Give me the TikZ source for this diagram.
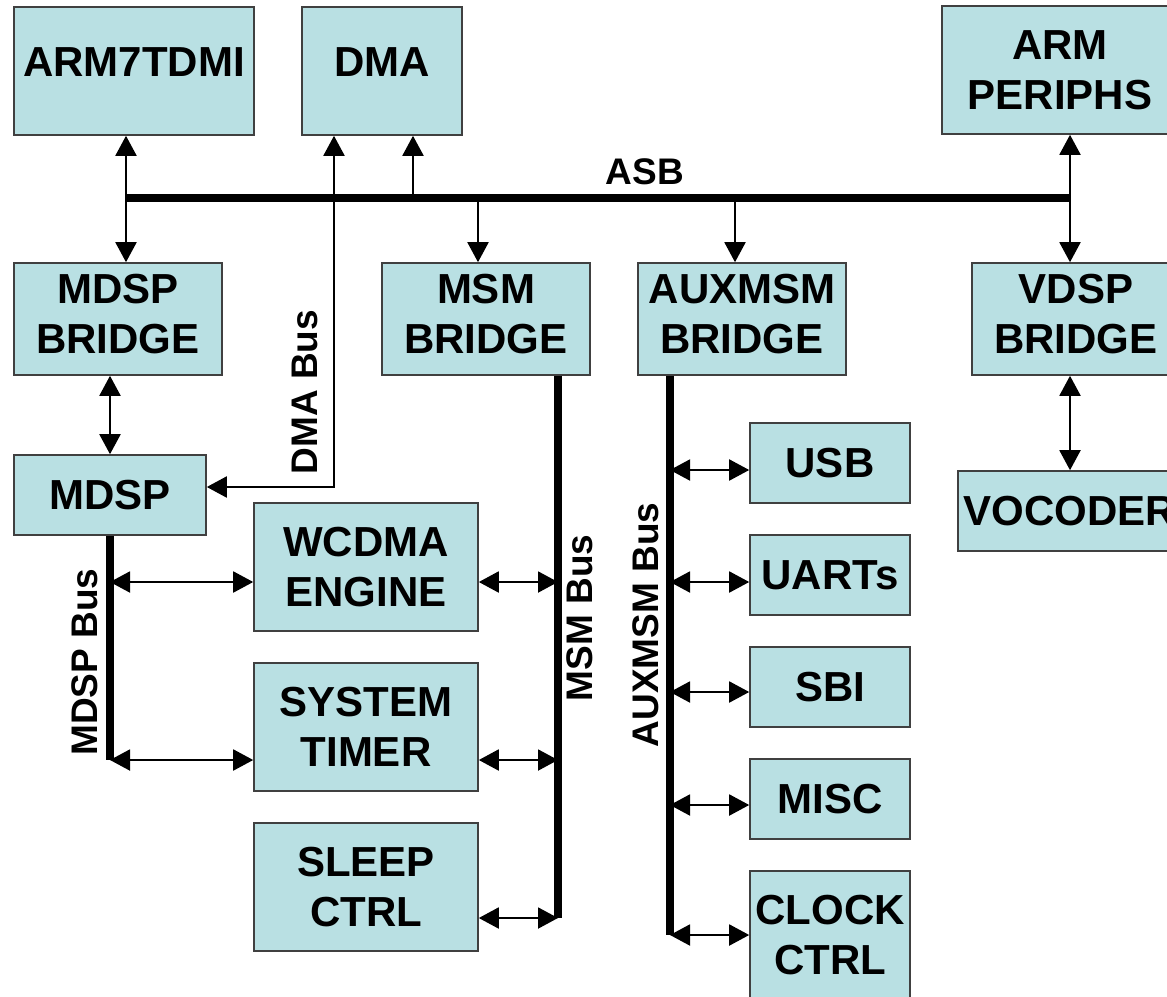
\documentclass[tikz,border=0pt]{standalone}
\usepackage{fontspec}
\setmainfont{Liberation Sans}
\usetikzlibrary{arrows.meta,positioning}
\definecolor{blockfill}{RGB}{185,224,227}
\newcommand{\padbelow}[1]{\rule[-#1]{0pt}{#1}}
\tikzset{
    blk/.style={draw=black!75, fill=blockfill, line width=0.8pt, inner sep=0pt, align=center,
                font=\fontsize{21}{25}\selectfont\bfseries},
    link/.style={line width=1pt, -{Triangle[length=10pt,width=10.5pt]}},
    dlink/.style={line width=1pt, {Triangle[length=10pt,width=10.5pt]}-{Triangle[length=10pt,width=10.5pt]}},
    bus/.style={line width=4pt},
    buslabel/.style={font=\fontsize{18.5}{22}\selectfont\bfseries, inner sep=0pt},
}
\begin{document}
\begin{tikzpicture}[x=0.5pt,y=-0.5pt]
                \useasboundingbox (0,0) rectangle (1167,996);
                \clip (0,0) rectangle (1167,996);
                %%%  Blocks on top row
                \node[blk, minimum width=120pt, minimum height=64pt] (arm) at (134,71) {ARM7TDMI\padbelow{9pt}};
                \node[blk, minimum width=80pt, minimum height=64pt] (dma) at (382,71) {DMA\padbelow{9pt}};
                \node[blk, minimum width=118pt, minimum height=64pt] (periph) at (1060,70) {ARM\\PERIPHS};
                %%%  Bridges
                \node[blk, minimum width=104pt, minimum height=56pt] (mdspbr) at (118,319) {MDSP\\BRIDGE\padbelow{5pt}};
                \node[blk, minimum width=104pt, minimum height=56pt] (msmbr) at (486,319) {MSM\\BRIDGE\padbelow{5pt}};
                \node[blk, minimum width=104pt, minimum height=56pt] (auxbr) at (742,319) {AUXMSM\\BRIDGE\padbelow{5pt}};
                \node[blk, minimum width=104pt, minimum height=56pt] (vdspbr) at (1076,319) {VDSP\\BRIDGE\padbelow{5pt}};
                %%%  Lower blocks
                \node[blk, minimum width=96pt, minimum height=40pt] (mdsp) at (110,495) {MDSP};
                \node[blk, minimum width=112pt, minimum height=64pt] (wcdma) at (366,567) {WCDMA\\ENGINE};
                \node[blk, minimum width=112pt, minimum height=64pt] (timer) at (366,727) {SYSTEM\\TIMER};
                \node[blk, minimum width=112pt, minimum height=64pt] (sleep) at (366,887) {SLEEP\\CTRL};
                \node[blk, minimum width=80pt, minimum height=40pt] (usb) at (830,463) {USB};
                \node[blk, minimum width=80pt, minimum height=40pt] (uarts) at (830,575) {UARTs};
                \node[blk, minimum width=80pt, minimum height=40pt] (sbi) at (830,687) {SBI};
                \node[blk, minimum width=80pt, minimum height=40pt] (misc) at (830,799) {MISC};
                \node[blk, minimum width=80pt, minimum height=64pt] (clock) at (830,935) {CLOCK\\CTRL};
                \node[blk, minimum width=112pt, minimum height=40pt] (vocoder) at (1070,511) {VOCODER};
                %%%  Bus end points and taps
                \coordinate (asbA) at (126,198);
                \coordinate (asbD) at (413,198);
                \coordinate (asbM) at (478,198);
                \coordinate (asbX) at (735,198);
                \coordinate (asbV) at (1070,198);
                \coordinate (dmabus) at (334,487);
                \coordinate (mdspA) at (110,582);
                \coordinate (mdspB) at (110,760);
                \coordinate (msmA) at (558,582);
                \coordinate (msmB) at (558,760);
                \coordinate (msmC) at (558,918);
                \coordinate (auxA) at (670,470);
                \coordinate (auxB) at (670,582);
                \coordinate (auxC) at (670,692);
                \coordinate (auxD) at (670,805);
                \coordinate (auxE) at (670,935);
                %%%  ASB and its arrows
                \draw[dlink] (asbA |- arm.south) -- (asbA |- mdspbr.north);
                \draw[dlink] (dmabus |- dma.south) -- (dmabus) -- (dmabus -| mdsp.east);
                \draw[link] (asbD) -- (asbD |- dma.south);
                \draw[link] (asbM) -- (asbM |- msmbr.north);
                \draw[link] (asbX) -- (asbX |- auxbr.north);
                \draw[link] (asbV) -- (asbV |- periph.south);
                \draw[link] (asbV) -- (asbV |- vdspbr.north);
                \draw[bus] (asbA) -- (asbV);
                \node[buslabel] (asb) at (645,172) {ASB};
                %%%  Bridge to block arrows
                \draw[dlink] (mdspbr.south -| mdsp) -- (mdsp.north);
                \draw[dlink] (vdspbr.south -| asbV) -- (vocoder.north -| asbV);
                %%%  MDSP Bus
                \draw[bus] (mdsp.south) -- (mdspB);
                \draw[dlink] (mdspA) -- (mdspA -| wcdma.west);
                \draw[dlink] (mdspB) -- (mdspB -| timer.west);
                %%%  MSM Bus
                \draw[bus] (msmbr.south -| msmA) -- (msmC);
                \draw[dlink] (msmA -| wcdma.east) -- (msmA);
                \draw[dlink] (msmB -| timer.east) -- (msmB);
                \draw[dlink] (msmC -| sleep.east) -- (msmC);
                %%%  AUXMSM Bus
                \draw[bus] (auxbr.south -| auxA) -- (auxE);
                \draw[dlink] (auxA) -- (auxA -| usb.west);
                \draw[dlink] (auxB) -- (auxB -| uarts.west);
                \draw[dlink] (auxC) -- (auxC -| sbi.west);
                \draw[dlink] (auxD) -- (auxD -| misc.west);
                \draw[dlink] (auxE) -- (auxE -| clock.west);
                %%%  Bus labels
                \node[buslabel, rotate=90] (dmalbl) at (305,392) {DMA Bus};
                \node[buslabel, rotate=90] (mdsplbl) at (85,662) {MDSP Bus};
                \node[buslabel, rotate=90] (msmlbl) at (580,618) {MSM Bus};
                \node[buslabel, rotate=90] (auxlbl) at (646,625) {AUXMSM Bus};
\end{tikzpicture}
\end{document}
